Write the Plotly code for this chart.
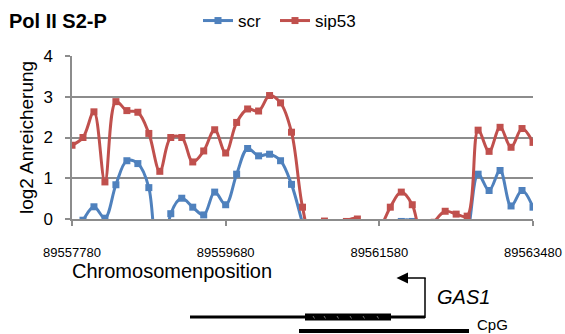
import numpy as np
import plotly.graph_objects as go

# ---- data ----
start_pos = 89557780
end_pos = 89563480
n_points = 43
positions = np.linspace(start_pos, end_pos, n_points)

# log2 enrichment; values below 0 are clipped by the axis (estimates)
scr = [-0.5, -0.03, 0.30, 0.02, 0.84, 1.43, 1.36, 0.77, -2.5, 0.13,
       0.51, 0.29, 0.10, 0.66, 0.35, 1.10, 1.73, 1.55, 1.59, 1.43,
       0.85, -0.1, -1.0, -1.0, -1.0, -1.0, -1.0, -1.0, -1.0, -0.8,
       -0.06, -0.06, -0.8, -1.0, -1.0, -1.0, -0.4, 1.10, 0.70, 1.19,
       0.32, 0.70, 0.29]
sip53 = [1.81, 2.0, 2.63, 0.91, 2.88, 2.66, 2.62, 2.10, 1.17, 2.0,
         2.0, 1.40, 1.67, 2.19, 1.62, 2.37, 2.70, 2.65, 3.03, 2.85,
         2.13, 0.29, -0.7, -0.05, -0.7, -0.06, 0.0, -0.8, -0.3, 0.29,
         0.66, 0.35, -0.6, -0.08, 0.19, 0.12, 0.07, 2.18, 1.66, 2.25,
         1.76, 2.22, 1.88]
x_ticks = [89557780, 89559680, 89561580, 89563480]
y_ticks = [0, 1, 2, 3, 4]

FONT = "Liberation Sans, Arial, sans-serif"
BLUE = "#4F81BD"
RED = "#C0504D"
GRID = "#8C8C8C"

W, H = 565, 334
ML, MR, MT, MB = 72, 32, 56, 115
PW = W - ML - MR
PH = H - MT - MB


def px(x):
    return (x - ML) / PW


def py(y):
    return (H - MB - y) / PH


fig = go.Figure()
for name, vals, col, lg in [("scr", scr, BLUE, "legend"),
                            ("sip53", sip53, RED, "legend2")]:
    fig.add_trace(go.Scatter(
        x=positions, y=vals, name=name, mode="lines+markers",
        line=dict(color=col, width=3, shape="spline", smoothing=1.0),
        marker=dict(symbol="square", size=7, color=col),
        cliponaxis=True, legend=lg,
    ))

shapes = []
# gene line
shapes.append(dict(type="line", xref="paper", yref="paper",
                   x0=px(190), x1=px(425), y0=py(317), y1=py(317),
                   line=dict(color="black", width=3)))
# exon box
shapes.append(dict(type="rect", xref="paper", yref="paper",
                   x0=px(305), x1=px(391), y0=py(320.5), y1=py(313.5),
                   fillcolor="black", line=dict(color="black", width=0)))
for tx in [313, 324, 337, 350, 363, 377]:
    shapes.append(dict(type="line", xref="paper", yref="paper",
                       x0=px(tx), x1=px(tx + 1.5), y0=py(316), y1=py(318.5),
                       line=dict(color="#777777", width=1)))
# TSS arrow
shapes.append(dict(type="line", xref="paper", yref="paper",
                   x0=px(425), x1=px(425), y0=py(318), y1=py(278),
                   line=dict(color="black", width=1.5)))
shapes.append(dict(type="line", xref="paper", yref="paper",
                   x0=px(425.7), x1=px(405), y0=py(278), y1=py(278),
                   line=dict(color="black", width=1.5)))
shapes.append(dict(type="path", xref="paper", yref="paper",
                   path=f"M {px(396.5)} {py(278)} L {px(408)} {py(272.5)} L {px(408)} {py(283.5)} Z",
                   fillcolor="black", line=dict(color="black", width=0)))
# CpG line
shapes.append(dict(type="line", xref="paper", yref="paper",
                   x0=px(299), x1=px(469), y0=py(331), y1=py(331),
                   line=dict(color="black", width=4)))

annotations = [
    dict(text="<b>Pol II S2-P</b>", xref="paper", yref="paper",
         x=px(7), y=py(21), xanchor="left", yanchor="middle",
         showarrow=False, font=dict(family=FONT, size=20, color="black")),
    dict(text="Chromosomenposition", xref="paper", yref="paper",
         x=px(70), y=py(271), xanchor="left", yanchor="middle",
         showarrow=False, font=dict(family=FONT, size=20, color="black")),
    dict(text="<i>GAS1</i>", xref="paper", yref="paper",
         x=px(435), y=py(297), xanchor="left", yanchor="middle",
         showarrow=False, font=dict(family=FONT, size=20, color="black")),
    dict(text="CpG", xref="paper", yref="paper",
         x=px(476), y=py(334), xanchor="left", yanchor="bottom",
         showarrow=False, borderpad=0,
         font=dict(family=FONT, size=15, color="black")),
]

leg_common = dict(orientation="h", xref="container", yref="container",
                  y=1 - 21 / H, xanchor="left", yanchor="middle",
                  font=dict(family=FONT, size=17),
                  bgcolor="rgba(0,0,0,0)", itemwidth=30)

fig.update_layout(
    width=W, height=H,
    margin=dict(l=ML, r=MR, t=MT, b=MB, pad=0, autoexpand=False),
    paper_bgcolor="white", plot_bgcolor="white",
    font=dict(family=FONT, color="black"),
    showlegend=True,
    legend=dict(x=198 / W, **leg_common),
    legend2=dict(x=275 / W, **leg_common),
    shapes=shapes,
    annotations=annotations,
)
fig.update_xaxes(
    range=[start_pos, end_pos], tickvals=x_ticks,
    ticktext=[str(t) for t in x_ticks],
    showgrid=False, zeroline=False,
    showline=True, linecolor=GRID, linewidth=1.5,
    ticks="outside", ticklen=5, tickcolor=GRID, tickwidth=1.5,
    tickfont=dict(family=FONT, size=13, color="black"),
    ticklabelstandoff=16,
)
fig.update_yaxes(
    range=[0, 4], tickvals=y_ticks,
    showgrid=True, gridcolor=GRID, gridwidth=1.5, zeroline=False,
    showline=True, linecolor=GRID, linewidth=1.5,
    ticks="outside", ticklen=5, tickcolor=GRID, tickwidth=1.5,
    tickfont=dict(family=FONT, size=17, color="black"),
    ticklabelstandoff=9,
    title=dict(text="log2 Anreicherung", standoff=5,
               font=dict(family=FONT, size=19, color="black")),
)

fig.write_html("out.html")
